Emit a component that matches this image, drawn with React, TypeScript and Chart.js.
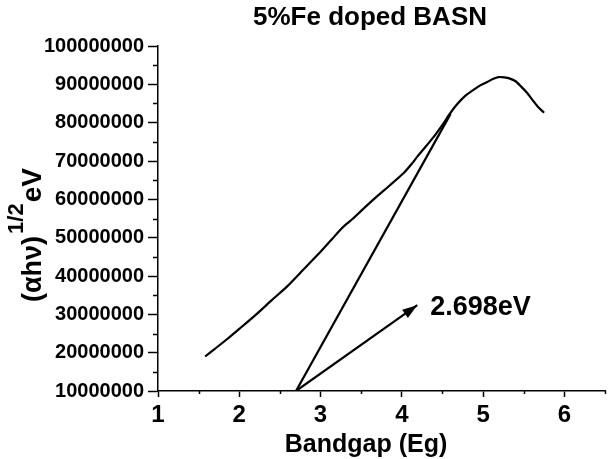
import React, { useEffect, useRef } from 'react';
import { Chart, registerables } from 'chart.js';

Chart.register(...registerables);

// ---- data ----
const curveX = [1.58, 1.70, 1.86, 2.0, 2.22, 2.40, 2.59, 2.79, 3.00, 3.14, 3.25, 3.32, 3.40, 3.50, 3.67, 3.85, 4.03, 4.12, 4.20, 4.28, 4.40, 4.50, 4.58, 4.68, 4.78, 4.89, 4.97, 5.05, 5.12, 5.19, 5.26, 5.33, 5.40, 5.46, 5.54, 5.62, 5.68, 5.75];
const curveY = [19.0, 21.0, 23.7, 26.2, 30.2, 33.7, 37.3, 41.7, 46.3, 49.6, 52.2, 53.6, 55.0, 57.0, 60.3, 63.6, 67.0, 69.2, 71.4, 73.4, 76.5, 79.4, 82.0, 84.8, 87.0, 88.7, 89.8, 90.6, 91.4, 91.9, 91.8, 91.5, 90.8, 89.6, 87.8, 85.6, 84.0, 82.6].map((v) => v * 1000000);
const tangentX = [2.698, 4.6];
const tangentY = [10000000, 82300000];
const arrowX = [2.698, 4.19];
const arrowY = [10000000, 32400000];
const xMajorTicks = [1, 2, 3, 4, 5, 6];
const yMajorTicks = [10000000, 20000000, 30000000, 40000000, 50000000, 60000000, 70000000, 80000000, 90000000, 100000000];
const chartTitle = '5%Fe doped BASN';
const xAxisTitle = 'Bandgap (Eg)';
const yTitleMain = '(αhν)';
const yTitleSup = '1/2';
const yTitleTail = 'eV';
const gapLabel = '2.698eV';
const gapLabelX = 4.35;
const gapLabelY = 31900000;

const FONT = '"Liberation Sans", Arial, sans-serif';

const decorPlugin = {
  id: 'decor',
  afterDraw(chart: any) {
    const ctx = chart.ctx as CanvasRenderingContext2D;
    const xs = chart.scales.x;
    const ys = chart.scales.y;
    ctx.save();
    ctx.strokeStyle = '#000';
    ctx.fillStyle = '#000';
    ctx.lineWidth = 1.5;
    // minor ticks x
    for (let i = 0; i < xMajorTicks.length; i++) {
      const v = xMajorTicks[i] + 0.5;
      const px = Math.round(xs.getPixelForValue(v)) + 0.5;
      ctx.beginPath();
      ctx.moveTo(px, xs.top);
      ctx.lineTo(px, xs.top + 3);
      ctx.stroke();
    }
    // minor ticks y
    for (let i = 0; i < yMajorTicks.length - 1; i++) {
      const v = yMajorTicks[i] + 5000000;
      const py = Math.round(ys.getPixelForValue(v)) + 0.5;
      ctx.beginPath();
      ctx.moveTo(ys.right - 5, py);
      ctx.lineTo(ys.right, py);
      ctx.stroke();
    }
    // arrow head
    const x0 = xs.getPixelForValue(arrowX[0]);
    const y0 = ys.getPixelForValue(arrowY[0]);
    const x1 = xs.getPixelForValue(arrowX[1]);
    const y1 = ys.getPixelForValue(arrowY[1]);
    const ang = Math.atan2(y1 - y0, x1 - x0);
    const L = 15;
    const W = 5;
    const bx = x1 - L * Math.cos(ang);
    const by = y1 - L * Math.sin(ang);
    ctx.beginPath();
    ctx.moveTo(x1, y1);
    ctx.lineTo(bx + W * Math.sin(ang), by - W * Math.cos(ang));
    ctx.lineTo(bx - W * Math.sin(ang), by + W * Math.cos(ang));
    ctx.closePath();
    ctx.fill();

    // gap label
    ctx.font = `bold 27px ${FONT}`;
    ctx.textAlign = 'left';
    ctx.textBaseline = 'middle';
    ctx.fillText(gapLabel, xs.getPixelForValue(gapLabelX), ys.getPixelForValue(gapLabelY));

    // chart title
    ctx.font = `bold 26px ${FONT}`;
    ctx.textAlign = 'center';
    ctx.textBaseline = 'middle';
    ctx.fillText(chartTitle, 370, 18);

    // x axis title
    ctx.font = `bold 25px ${FONT}`;
    ctx.textAlign = 'center';
    ctx.fillText(xAxisTitle, 366, 445);

    // y axis title (rotated)
    ctx.translate(41, 302);
    ctx.rotate(-Math.PI / 2);
    ctx.textAlign = 'left';
    ctx.textBaseline = 'alphabetic';
    ctx.font = `bold 27px ${FONT}`;
    ctx.fillText(yTitleMain, 0, 0);
    let w = ctx.measureText(yTitleMain).width;
    ctx.font = `bold 22px ${FONT}`;
    ctx.fillText(yTitleSup, w + 2, -18);
    w += ctx.measureText(yTitleSup).width + 3;
    ctx.font = `bold 28px ${FONT}`;
    ctx.fillText(yTitleTail, w, 0);
    ctx.restore();
  },
};

export default function App() {
  const ref = useRef<HTMLCanvasElement>(null);
  useEffect(() => {
    if (!ref.current) return;
    const chart = new Chart(ref.current, {
      type: 'line',
      data: {
        datasets: [
          {
            data: curveX.map((x, i) => ({ x, y: curveY[i] })),
            borderColor: '#000',
            borderWidth: 2.2,
            pointRadius: 0,
            tension: 0.2,
            fill: false,
          },
          {
            data: tangentX.map((x, i) => ({ x, y: tangentY[i] })),
            borderColor: '#000',
            borderWidth: 2.2,
            pointRadius: 0,
            fill: false,
          },
          {
            data: arrowX.map((x, i) => ({ x, y: arrowY[i] })),
            borderColor: '#000',
            borderWidth: 2.2,
            pointRadius: 0,
            fill: false,
          },
        ],
      },
      options: {
        animation: false,
        responsive: false,
        layout: { padding: { top: 46, right: 0, left: 0, bottom: 0 } },
        plugins: {
          legend: { display: false },
          tooltip: { enabled: false },
          title: { display: false },
        },
        scales: {
          x: {
            type: 'linear',
            min: 1,
            max: 6.5,
            afterFit: (s: any) => {
              s.height = 68;
            },
            ticks: {
              stepSize: 0.5,
              autoSkip: false,
              maxRotation: 0,
              padding: 4,
              color: '#000',
              font: { family: FONT, size: 24, weight: 'bold' },
              callback: (v: any) => (xMajorTicks.includes(Number(v)) ? String(v) : ''),
            },
            grid: {
              drawOnChartArea: false,
              tickLength: 6,
              tickWidth: 1.5,
              tickColor: (c: any) => (c.tick && xMajorTicks.includes(c.tick.value) ? '#000' : 'rgba(0,0,0,0)'),
            },
            border: { color: '#000', width: 1.5 },
          },
          y: {
            type: 'linear',
            min: 10000000,
            max: 100000000,
            afterFit: (s: any) => {
              s.width = 158;
            },
            ticks: {
              stepSize: 5000000,
              autoSkip: false,
              padding: 4,
              color: '#000',
              font: { family: FONT, size: 20, weight: 'bold' },
              callback: (v: any) => (yMajorTicks.includes(Number(v)) ? String(v) : ''),
            },
            grid: {
              drawOnChartArea: false,
              tickLength: 10,
              tickWidth: 1.5,
              tickColor: (c: any) => (c.tick && yMajorTicks.includes(c.tick.value) ? '#000' : 'rgba(0,0,0,0)'),
            },
            border: { color: '#000', width: 1.5 },
          },
        },
      },
      plugins: [decorPlugin],
    } as any);
    return () => chart.destroy();
  }, []);
  return (
    <div style={{ position: 'absolute', left: 0, top: 0, width: 609, height: 459, background: '#fff' }}>
      <canvas ref={ref} width={609} height={459} style={{ display: 'block' }} />
    </div>
  );
}
